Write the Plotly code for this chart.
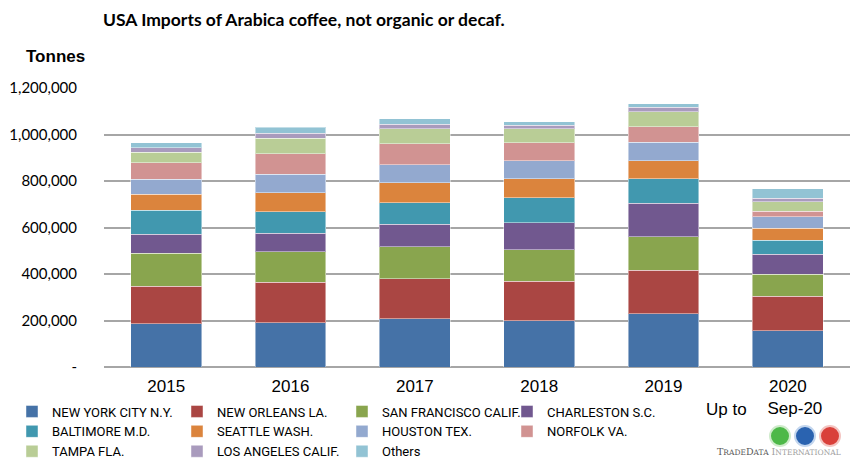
import plotly.graph_objects as go

years = ["2015", "2016", "2017", "2018", "2019", "2020"]
year_labels = ["2015", "2016", "2017", "2018", "2019", "2020<br>\u00a0\u00a0\u00a0Sep-20"]

ports = ["NEW YORK CITY N.Y.", "NEW ORLEANS LA.", "SAN FRANCISCO CALIF.", "CHARLESTON S.C.",
         "BALTIMORE M.D.", "SEATTLE WASH.", "HOUSTON TEX.", "NORFOLK VA.",
         "TAMPA FLA.", "LOS ANGELES CALIF.", "Others"]

new_york = [185700, 190000, 206600, 198000, 228100, 154900]
new_orleans = [161400, 174300, 172200, 170700, 188000, 149300]
san_francisco = [142900, 131400, 139100, 136300, 143400, 94600]
charleston = [81400, 78600, 96100, 114800, 144900, 86100]
baltimore = [102900, 92900, 91900, 109000, 104800, 60300]
seattle = [68600, 82900, 86100, 80400, 77400, 51600]
houston = [64300, 78600, 77400, 77400, 80400, 48800]
norfolk = [71400, 88600, 90400, 77500, 67400, 24400]
tampa = [44300, 67100, 66000, 61700, 63100, 41600]
los_angeles = [20000, 21400, 18700, 14400, 18700, 14400]
others = [21400, 25700, 22900, 15700, 15800, 40100]

series = [new_york, new_orleans, san_francisco, charleston, baltimore, seattle,
          houston, norfolk, tampa, los_angeles, others]
colors = ["#4572A7", "#AA4643", "#89A54E", "#71588F", "#4198AF", "#DB843D",
          "#93A9CF", "#D19392", "#B9CD96", "#A99BBD", "#92C3D4"]

y_ticks = [0, 200000, 400000, 600000, 800000, 1000000, 1200000]
y_ticktext = ["-", "200,000", "400,000", "600,000", "800,000", "1,000,000", "1,200,000"]

W, H = 850, 463
ML, MT, MB = 104, 88, 96
PW, PH = W - ML, H - MT - MB


def px_x(x):
    return (x - ML) / PW


def px_y(y):
    return (H - MB - y) / PH


fig = go.Figure()
for name, vals, col in zip(ports, series, colors):
    fig.add_trace(go.Bar(
        x=years, y=vals, name=name,
        marker=dict(color=col, line=dict(color="rgba(255,255,255,0.45)", width=1)),
    ))

fig.update_layout(
    width=W, height=H,
    barmode="stack", bargap=0.43,
    plot_bgcolor="white", paper_bgcolor="white",
    margin=dict(l=ML, r=0, t=MT, b=MB, autoexpand=False),
    font=dict(family="Lato, Liberation Sans, sans-serif", color="#000000"),
    showlegend=True,
    legend=dict(
        orientation="h", x=px_x(342), xanchor="center", y=px_y(396.5), yanchor="top",
        entrywidth=120, entrywidthmode="pixels",
        font=dict(family="Roboto, Liberation Sans, sans-serif", size=13, color="#000000"),
        traceorder="normal", itemclick=False, tracegroupgap=0,
        bgcolor="rgba(0,0,0,0)",
    ),
    xaxis=dict(
        tickvals=years, ticktext=year_labels, showgrid=False, showline=False,
        ticks="", tickfont=dict(family="Liberation Sans, Arial, sans-serif", size=17),
        ticklabelstandoff=7, automargin=False,
    ),
    yaxis=dict(
        range=[0, 1200000], tickvals=y_ticks, ticktext=y_ticktext,
        showgrid=True, gridcolor="#A6A6A6", gridwidth=1.5,
        zeroline=True, zerolinecolor="#A6A6A6", zerolinewidth=1.5,
        showline=False, ticks="",
        tickfont=dict(family="Lato, sans-serif", size=15),
        ticklabelstandoff=26, automargin=False,
    ),
)

fig.add_annotation(text="<b>USA Imports of Arabica coffee, not organic or decaf.</b>",
                   xref="paper", yref="paper", x=px_x(101), y=px_y(20),
                   xanchor="left", yanchor="middle", showarrow=False,
                   font=dict(family="Lato, sans-serif", size=17.5))
fig.add_annotation(text="<b>Tonnes</b>",
                   xref="paper", yref="paper", x=px_x(24), y=px_y(57),
                   xanchor="left", yanchor="middle", showarrow=False,
                   font=dict(family="Liberation Sans, Arial, sans-serif", size=17))
fig.add_annotation(text="Up to",
                   xref="paper", yref="paper", x=px_x(726), y=px_y(409),
                   xanchor="center", yanchor="middle", showarrow=False,
                   font=dict(family="Liberation Sans, Arial, sans-serif", size=17))

# Logo: three globes and text
globe_cols = [("#4DB848", "#CFEBCB"), ("#2A63B0", "#C3D6EE"), ("#D9403A", "#F4C5C2")]
for i, (c, lc) in enumerate(globe_cols):
    cx = 780 + i * 25
    cy = 436
    r = 10
    fig.add_shape(type="circle", xref="paper", yref="paper",
                  x0=px_x(cx - r), x1=px_x(cx + r),
                  y0=px_y(cy + r), y1=px_y(cy - r),
                  fillcolor=c, line=dict(color=lc, width=2), layer="above")
fig.add_annotation(
    text="<span style='color:#5a5a5a'>T<span style='font-size:7.5px'>RADE</span>D<span style='font-size:7.5px'>ATA</span></span> "
         "<span style='color:#a0a0a0'>I<span style='font-size:7.5px'>NTERNATIONAL</span></span>",
    xref="paper", yref="paper", x=px_x(843), y=px_y(452),
    xanchor="right", yanchor="middle", showarrow=False,
    font=dict(family="DejaVu Serif, Liberation Serif, serif", size=9.5))

fig.write_html("out.html", post_script="document.body.style.margin='0';",
               config={"displayModeBar": False})
